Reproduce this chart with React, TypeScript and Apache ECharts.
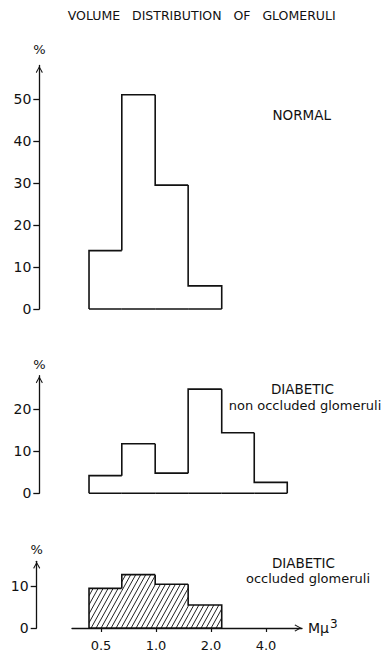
import React, { useEffect, useRef } from "react";
import * as echarts from "echarts";

// ---- data ----
const binEdges = [0.43, 0.65, 0.99, 1.5, 2.29, 3.45, 5.23]; // Mμ³, log-spaced bins
const xTickValues = [0.5, 1.0, 2.0, 4.0];
const normalPct = [13.9, 51.0, 29.5, 5.5];
const diabeticNonOccludedPct = [4.2, 11.8, 4.8, 24.8, 14.4, 2.6];
const diabeticOccludedPct = [9.5, 12.8, 10.5, 5.5];
const normalYTicks = [0, 10, 20, 30, 40, 50];
const nonOccludedYTicks = [0, 10, 20];
const occludedYTicks = [0, 10];

const titleText = "VOLUME   DISTRIBUTION   OF   GLOMERULI";
const FONT = "DejaVu Sans";
const INK = "#111";

const X_MIN = -1.527; // log2 of axis start
const X_MAX = 2.655; // log2 of axis end

function binData(values: number[]) {
  return values.map((v, i) => [
    Math.log2(binEdges[i]),
    Math.log2(binEdges[i + 1]),
    v,
    i === 0 ? 0 : values[i - 1],
    i === values.length - 1 ? 1 : 0,
  ]);
}

function makeHatch() {
  const w = 5,
    h = 9;
  const c = document.createElement("canvas");
  c.width = w;
  c.height = h;
  const ctx = c.getContext("2d")!;
  ctx.fillStyle = "#fff";
  ctx.fillRect(0, 0, w, h);
  ctx.strokeStyle = "#222";
  ctx.lineWidth = 1;
  for (const dx of [-w, 0, w]) {
    ctx.beginPath();
    ctx.moveTo(dx, h);
    ctx.lineTo(dx + w, 0);
    ctx.stroke();
  }
  return { image: c, repeat: "repeat", imageWidth: w, imageHeight: h };
}

export default function App() {
  const ref = useRef<HTMLDivElement>(null);

  useEffect(() => {
    if (!ref.current) return;
    const chart = echarts.init(ref.current, null, { renderer: "svg" });
    const hatch = makeHatch();

    const renderStep = (hatched: boolean) => (params: any, api: any) => {
      const l = api.value(0),
        r = api.value(1),
        v = api.value(2),
        p = api.value(3),
        last = api.value(4);
      const pL0 = api.coord([l, 0]);
      const pLp = api.coord([l, p]);
      const pLv = api.coord([l, v]);
      const pRv = api.coord([r, v]);
      const pR0 = api.coord([r, 0]);
      const pts = [pLp, pLv, pRv];
      if (last) pts.push(pR0);
      const children: any[] = [];
      if (hatched) {
        children.push({
          type: "polygon",
          shape: { points: [pL0, pLv, pRv, pR0] },
          style: { fill: hatch, stroke: null },
        });
      }
      children.push({
        type: "polyline",
        shape: { points: pts },
        style: { stroke: INK, lineWidth: 1.6, fill: null, lineJoin: "miter" },
      });
      children.push({
        type: "line",
        shape: { x1: pL0[0], y1: pL0[1], x2: pR0[0], y2: pR0[1] },
        style: { stroke: INK, lineWidth: 1.6 },
      });
      return { type: "group", children };
    };

    const arrow = "path://M0,9 L5,0 L10,9 L8.8,10 L5,2.8 L1.2,10 Z";

    const yAxisBase = (max: number, ticks: number[], offset: number, nameGap: number) => ({
      type: "value",
      position: "left",
      min: 0,
      max,
      offset,
      name: "%",
      nameLocation: "end",
      nameGap,
      nameTextStyle: { fontFamily: FONT, fontSize: 13, color: INK },
      axisLine: {
        show: true,
        onZero: false,
        symbol: ["none", arrow],
        symbolSize: [7, 8],
        symbolOffset: [0, -4],
        lineStyle: { color: INK, width: 1.3 },
      },
      axisTick: { show: true, length: 6, customValues: ticks, lineStyle: { color: INK, width: 1.3 } },
      axisLabel: {
        customValues: ticks,
        margin: 8,
        fontFamily: FONT,
        fontSize: 14,
        color: INK,
      },
      splitLine: { show: false },
    });

    const hiddenX = (gridIndex: number) => ({
      type: "value",
      gridIndex,
      min: X_MIN,
      max: X_MAX,
      show: false,
      splitLine: { show: false },
    });

    const gLeft = 72,
      gRight = 83;

    const text = (t: string, x: number, y: number, size: number) => ({
      type: "text",
      x,
      y,
      style: {
        text: t,
        fontFamily: FONT,
        fontSize: size,
        fill: INK,
        textAlign: "center",
        textVerticalAlign: "middle",
      },
    });

    chart.setOption({
      animation: false,
      backgroundColor: "#fff",
      grid: [
        { left: gLeft, right: gRight, top: 65.4, bottom: 343 },
        { left: gLeft, right: gRight, top: 375.7, bottom: 158.7 },
        { left: gLeft, right: gRight, top: 561.3, bottom: 23.5 },
      ],
      xAxis: [
        hiddenX(0),
        hiddenX(1),
        {
          type: "value",
          gridIndex: 2,
          min: X_MIN,
          max: X_MAX,
          name: "{m|Mμ}{s|3}",
          nameLocation: "end",
          nameGap: 6,
          nameTextStyle: {
            rich: {
              m: { fontFamily: FONT, fontSize: 14, color: INK, lineHeight: 18 },
              s: { fontFamily: FONT, fontSize: 12, color: INK, padding: [0, 0, 9, 1] },
            },
          },
          axisLine: {
            show: true,
            onZero: false,
            symbol: ["none", arrow],
            symbolSize: [7, 8],
            symbolOffset: [0, -4],
            lineStyle: { color: INK, width: 1.3 },
          },
          axisTick: {
            show: true,
            length: 4,
            customValues: xTickValues.map((v) => Math.log2(v)),
            lineStyle: { color: INK, width: 1.2 },
          },
          axisLabel: {
            customValues: xTickValues.map((v) => Math.log2(v)),
            formatter: (v: number) => Math.pow(2, v).toFixed(1),
            margin: 11,
            fontFamily: FONT,
            fontSize: 13,
            color: INK,
          },
          splitLine: { show: false },
        },
      ],
      yAxis: [
        { ...yAxisBase(58, normalYTicks, 32.7, 9), gridIndex: 0 },
        { ...yAxisBase(28, nonOccludedYTicks, 32.7, 5), gridIndex: 1 },
        { ...yAxisBase(16, occludedYTicks, 35.3, 5), gridIndex: 2 },
      ],
      series: [
        {
          type: "custom",
          name: "NORMAL",
          xAxisIndex: 0,
          yAxisIndex: 0,
          data: binData(normalPct),
          renderItem: renderStep(false),
        },
        {
          type: "custom",
          name: "DIABETIC non occluded glomeruli",
          xAxisIndex: 1,
          yAxisIndex: 1,
          data: binData(diabeticNonOccludedPct),
          renderItem: renderStep(false),
        },
        {
          type: "custom",
          name: "DIABETIC occluded glomeruli",
          xAxisIndex: 2,
          yAxisIndex: 2,
          data: binData(diabeticOccludedPct),
          renderItem: renderStep(true),
        },
      ],
      graphic: [
        text(titleText, 201.7, 15, 12.5),
        text("NORMAL", 301.7, 114.5, 13.5),
        text("DIABETIC", 302.5, 389, 13.5),
        text("non occluded glomeruli", 305, 405, 13),
        text("DIABETIC", 303.5, 563, 13.5),
        text("occluded glomeruli", 308, 578, 13),
      ],
    });

    return () => chart.dispose();
  }, []);

  return (
    <div
      ref={ref}
      style={{ position: "absolute", left: 0, top: 0, width: 385, height: 652 }}
    />
  );
}
